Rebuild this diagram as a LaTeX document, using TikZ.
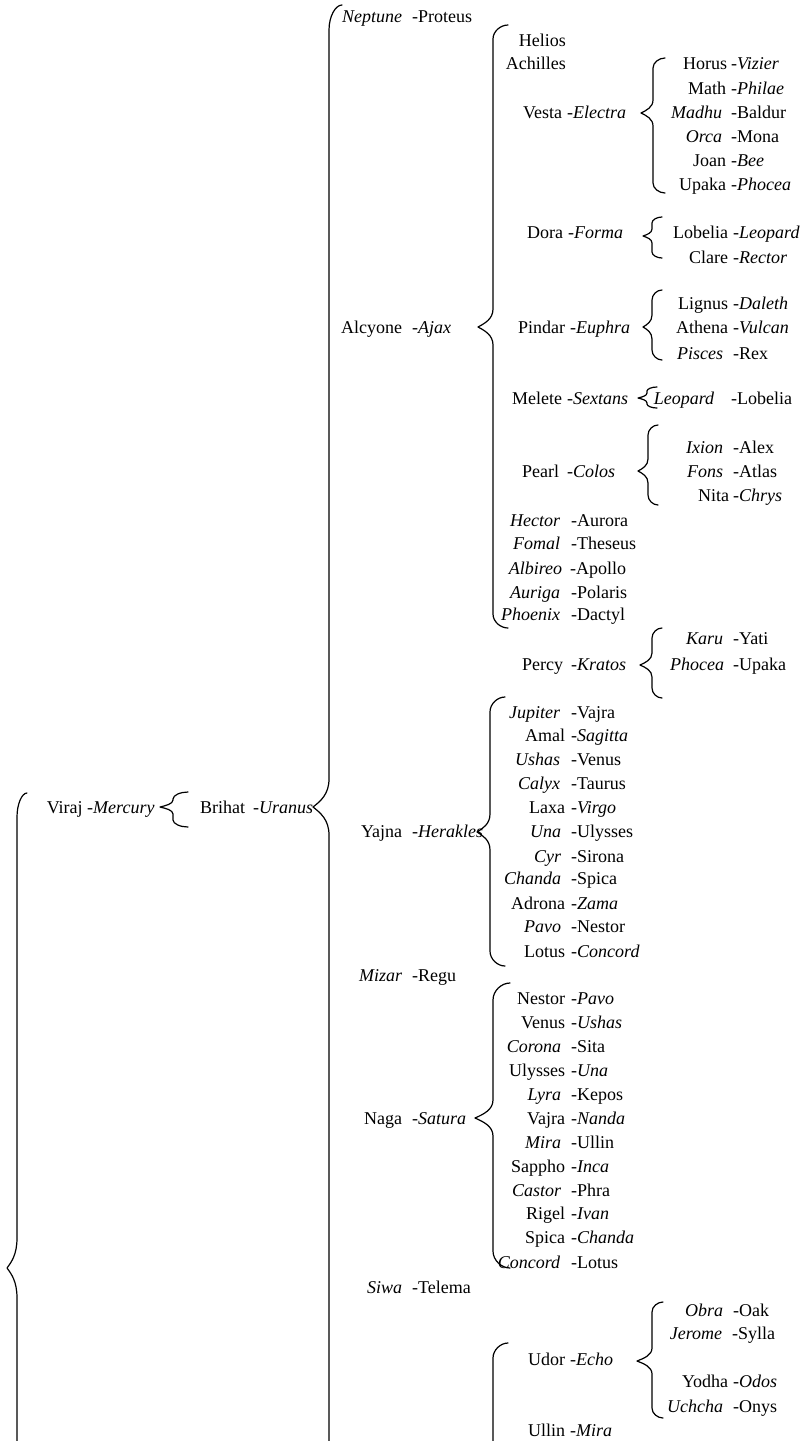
\documentclass[tikz,border=0pt]{standalone}
\usepackage{fontspec}
\setmainfont{Liberation Serif}
% pair of names: roman first word, italic second word, aligned on the hyphen
\newcommand\rp[6][6pt]{\node[lbl] (#2) at (#3,#4) {\llap{#5\hspace{#1}}-\textit{#6}};}
% pair of names: italic first word, roman second word, aligned on the hyphen
\newcommand\ip[6][11pt]{\node[lbl] (#2) at (#3,#4) {\llap{\textit{#5}\hspace{#1}}-#6};}
% curly brace: #1 stem x, #2 tip x, #3 hook x, #4 top y, #5 tip y, #6 bottom y, #7 hook height, #8 tip half height
\newcommand\cbr[8]{%
  \draw[bracepath] (#3,#4) .. controls ({#1+0.5*(#3-#1)},#4) and (#1,{#4+0.45*#7}) .. (#1,{#4+#7})
    -- (#1,{#5-#8}) .. controls (#1,{#5-0.45*#8}) and ({#2+0.45*(#1-#2)},{#5-0.2*#8}) .. (#2,#5)
    .. controls ({#2+0.45*(#1-#2)},{#5+0.2*#8}) and (#1,{#5+0.45*#8}) .. (#1,{#5+#8})
    -- (#1,{#6-#7}) .. controls (#1,{#6-0.45*#7}) and ({#1+0.5*(#3-#1)},#6) .. (#3,#6);}
% curly brace whose lower arm runs on past the page edge
\newcommand\cbo[7]{%
  \draw[bracepath] (#3,#4) .. controls ({#1+0.5*(#3-#1)},#4) and (#1,{#4+0.45*#6}) .. (#1,{#4+#6})
    -- (#1,{#5-#7}) .. controls (#1,{#5-0.45*#7}) and ({#2+0.45*(#1-#2)},{#5-0.2*#7}) .. (#2,#5)
    .. controls ({#2+0.45*(#1-#2)},{#5+0.2*#7}) and (#1,{#5+0.45*#7}) .. (#1,{#5+#7})
    -- (#1,1460);}
\begin{document}
\begin{tikzpicture}[x=1pt,y=-1pt,
  lbl/.style={anchor=mid west,inner sep=0pt,yshift=-4pt,font=\fontsize{18}{22}\selectfont},
  solo/.style={anchor=mid east,inner sep=0pt,yshift=-4pt,font=\fontsize{18}{22}\selectfont},
  bracepath/.style={line width=1.2pt,line join=round,line cap=round}]
\useasboundingbox (0,0) rectangle (802,1441);
\clip (0,0) rectangle (802,1441);

% ---- first levels
\rp[4.5pt]{viraj}{87}{807}{Viraj}{Mercury}
\rp[8pt]{brihat}{253}{807}{Brihat}{Uranus}

% ---- children of Brihat
\ip[10pt]{neptune}{412}{16}{Neptune}{Proteus}
\rp[10pt]{alcyone}{412}{327}{Alcyone}{Ajax}
\rp[8pt]{percy}{571}{664}{Percy}{Kratos}
\rp[10pt]{yajna}{412}{831}{Yajna}{Herakles}
\ip[10pt]{mizar}{412}{975}{Mizar}{Regu}
\rp[10pt]{naga}{412}{1118}{Naga}{Satura}
\ip[10pt]{siwa}{412}{1287}{Siwa}{Telema}

% ---- children of Alcyone
\node[solo] (helios) at (566,40) {Helios};
\node[solo] (achilles) at (566,63) {Achilles};
\rp[5pt]{vesta}{567}{112}{Vesta}{Electra}
\rp[5pt]{dora}{568}{232}{Dora}{Forma}
\rp[5pt]{pindar}{570}{327}{Pindar}{Euphra}
\rp[5pt]{melete}{567}{398}{Melete}{Sextans}
\rp[8pt]{pearl}{567}{471}{Pearl}{Colos}
\ip{hector}{571}{520}{Hector}{Aurora}
\ip{fomal}{571}{543}{Fomal}{Theseus}
\ip[8pt]{albireo}{570}{568}{Albireo}{Apollo}
\ip{auriga}{571}{592}{Auriga}{Polaris}
\ip{phoenix}{571}{614}{Phoenix}{Dactyl}

% ---- grandchildren
\rp[4pt]{horus}{731}{63}{Horus}{Vizier}
\rp[5pt]{math}{731}{88}{Math}{Philae}
\ip[9pt]{madhu}{731}{112}{Madhu}{Baldur}
\ip[9pt]{orca}{731}{136}{Orca}{Mona}
\rp[5pt]{joan}{731}{160}{Joan}{Bee}
\rp[5pt]{upaka}{731}{184}{Upaka}{Phocea}
\rp[5pt]{lobelia}{733}{232}{Lobelia}{Leopard}
\rp[5pt]{clare}{733}{257}{Clare}{Rector}
\rp[5pt]{lignus}{733}{303}{Lignus}{Daleth}
\rp[5pt]{athena}{733}{327}{Athena}{Vulcan}
\ip[10pt]{pisces}{733}{353}{Pisces}{Rex}
\ip[17pt]{leopard}{731}{398}{Leopard}{Lobelia}
\ip[10pt]{ixion}{733}{447}{Ixion}{Alex}
\ip[10pt]{fons}{733}{471}{Fons}{Atlas}
\rp[4pt]{nita}{733}{495}{Nita}{Chrys}
\ip[10pt]{karu}{733}{638}{Karu}{Yati}
\ip[9pt]{phocea}{733}{664}{Phocea}{Upaka}

% ---- children of Yajna
\ip{jupiter}{571}{712}{Jupiter}{Vajra}
\rp{amal}{571}{735}{Amal}{Sagitta}
\ip{ushas}{571}{759}{Ushas}{Venus}
\ip{calyx}{571}{783}{Calyx}{Taurus}
\rp{laxa}{571}{807}{Laxa}{Virgo}
\ip[10pt]{una}{571}{831}{Una}{Ulysses}
\ip[10pt]{cyr}{571}{856}{Cyr}{Sirona}
\ip[10pt]{chanda}{571}{878}{Chanda}{Spica}
\rp{adrona}{571}{903}{Adrona}{Zama}
\ip[10pt]{pavo}{571}{926}{Pavo}{Nestor}
\rp{lotus}{571}{951}{Lotus}{Concord}

% ---- children of Naga
\rp{nestor}{571}{998}{Nestor}{Pavo}
\rp{venus}{571}{1022}{Venus}{Ushas}
\ip[10pt]{corona}{571}{1046}{Corona}{Sita}
\rp{ulysses}{571}{1070}{Ulysses}{Una}
\ip[10pt]{lyra}{571}{1094}{Lyra}{Kepos}
\rp{vajra}{571}{1118}{Vajra}{Nanda}
\ip[10pt]{mira}{571}{1142}{Mira}{Ullin}
\rp{sappho}{571}{1166}{Sappho}{Inca}
\ip[10pt]{castor}{571}{1190}{Castor}{Phra}
\rp{rigel}{571}{1213}{Rigel}{Ivan}
\rp{spica}{571}{1237}{Spica}{Chanda}
\ip{concord}{571}{1262}{Concord}{Lotus}

% ---- lower group
\rp[5pt]{udor}{570}{1359}{Udor}{Echo}
\rp[5pt]{ullin}{570}{1430}{Ullin}{Mira}
\ip[10pt]{obra}{733}{1310}{Obra}{Oak}
\ip[10pt]{jerome}{732}{1333}{Jerome}{Sylla}
\rp[5pt]{yodha}{733}{1381}{Yodha}{Odos}
\ip[10pt]{uchcha}{733}{1406}{Uchcha}{Onys}

% ---- braces
\cbo{17}{7}{27}{793}{1268}{24}{30}
\cbr{173}{160}{188}{792}{807}{827}{7}{7}
\cbo{329}{313}{342}{5}{807}{25}{28}
\cbr{493}{478}{508}{25}{327}{628}{14}{18}
\cbr{653}{641}{665}{58}{113}{193}{10}{13}
\cbr{652}{643}{662}{217}{236}{258}{6}{7}
\cbr{652}{643}{662}{290}{327}{360}{10}{12}
\cbr{647}{638}{657}{387}{398}{408}{4}{5}
\cbr{648}{638}{658}{425}{471}{505}{10}{12}
\cbr{652}{640}{662}{628}{665}{698}{10}{12}
\cbr{490}{477}{505}{697}{832}{966}{15}{18}
\cbr{493}{475}{510}{983}{1118}{1268}{17}{18}
\cbr{652}{637}{663}{1302}{1361}{1418}{10}{13}
\draw[bracepath] (508,1343) .. controls (500.5,1343) and (493,1350) .. (493,1358) -- (493,1460);
\end{tikzpicture}
\end{document}
